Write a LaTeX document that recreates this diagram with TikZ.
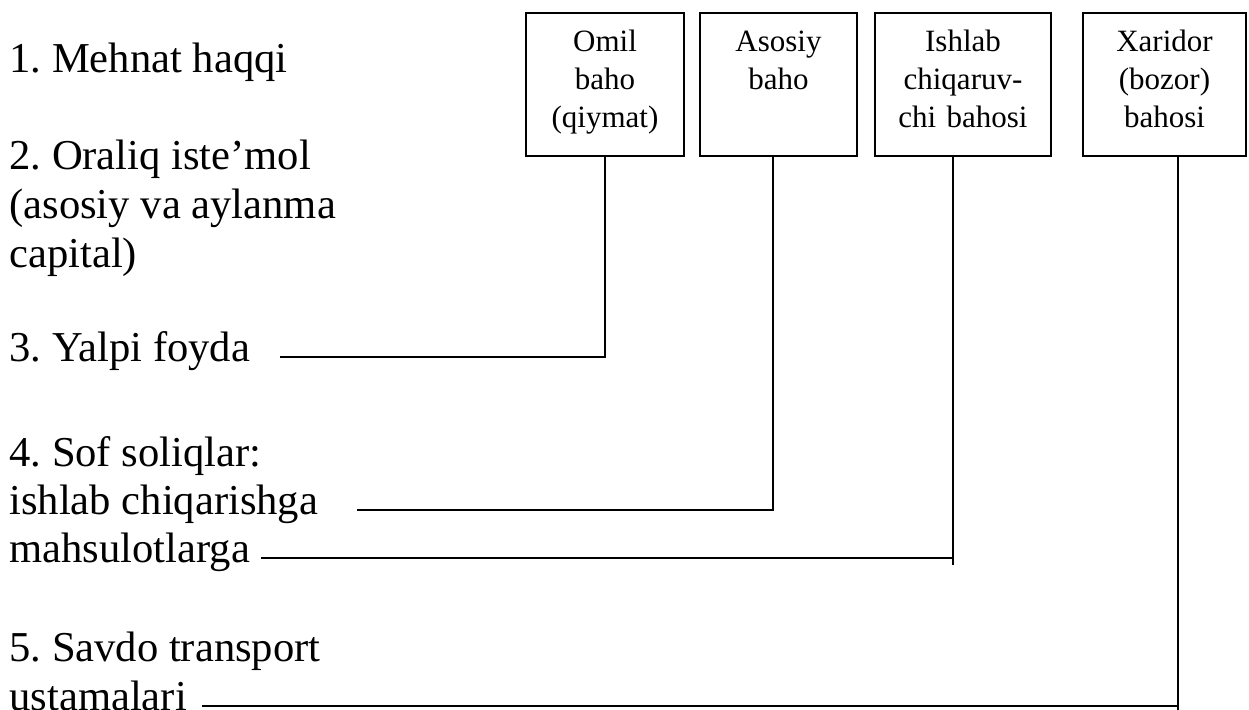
\documentclass[tikz,border=0pt]{standalone}
\usepackage{fontspec}
\setmainfont{Liberation Serif}
\usetikzlibrary{positioning}
\frenchspacing

\begin{document}
\begin{tikzpicture}[x=0.5pt,y=-0.5pt]

% riquadri dei prezzi
\tikzset{pricebox/.style={rectangle,draw,line width=1pt,inner sep=0pt,outer sep=0pt,align=center,
  text width=#1,text height=19.5pt,text depth=52pt,font=\fontsize{15.5}{19}\selectfont}}
% voci a sinistra
\tikzset{itemtext/.style={anchor=base west,inner sep=0pt,text height=0.69em,text depth=0.22em,
  font=\fontsize{21.3}{24.25}\selectfont}}
% linee di collegamento
\tikzset{link/.style={line width=1pt}}

\useasboundingbox (0,0) rectangle (1249,710);

% riquadri in alto
\node[pricebox=79pt,anchor=north west] (omil) at (526,13) {Omil\\baho\\(qiymat)};
\node[pricebox=78.5pt,right=8pt of omil] (asosiy) {Asosiy\\baho};
\node[pricebox=88pt,right=9pt of asosiy] (chiq) {Ishlab\\chiqaruv-\\chi bahosi};
\node[pricebox=81.5pt,right=16pt of chiq] (xaridor) {Xaridor\\(bozor)\\bahosi};

% elenco delle voci
\foreach \name/\y/\txt in {{mehnat/73/1. Mehnat haqqi},{oraliq/170/2. Oraliq iste’mol},
  {asosva/219/(asosiy va aylanma},{capital/268/capital)},{foyda/362/3. Yalpi foyda},
  {soliq/467/4. Sof soliqlar:},{ishlab/515/ishlab chiqarishga},{mahsul/563/mahsulotlarga},
  {savdo/662/5. Savdo transport},{ustama/711/ustamalari}}
\node[itemtext] (\name) at (9,\y) {\txt};

% inizio delle linee
\coordinate[right=14.7pt of foyda] (foydaln);
\coordinate[right=19pt of ishlab] (ishlabln);
\coordinate[right=5.25pt of mahsul] (mahsulln);
\coordinate[right=7.25pt of ustama] (ustamaln);

%Collega voci e riquadri
\draw[link] (omil.south) |- (foydaln);
\draw[link] ([xshift=-3pt]asosiy.south) |- (ishlabln);
\draw[link] ([xshift=-5pt]chiq.south) |- (mahsulln)
  ([xshift=-5pt]chiq.south |- mahsulln) -- ++(0,7);
\draw[link] ([xshift=6.75pt]xaridor.south) |- (ustamaln)
  ([xshift=6.75pt]xaridor.south |- ustamaln) -- ++(0,4);

\end{tikzpicture}
\end{document}
